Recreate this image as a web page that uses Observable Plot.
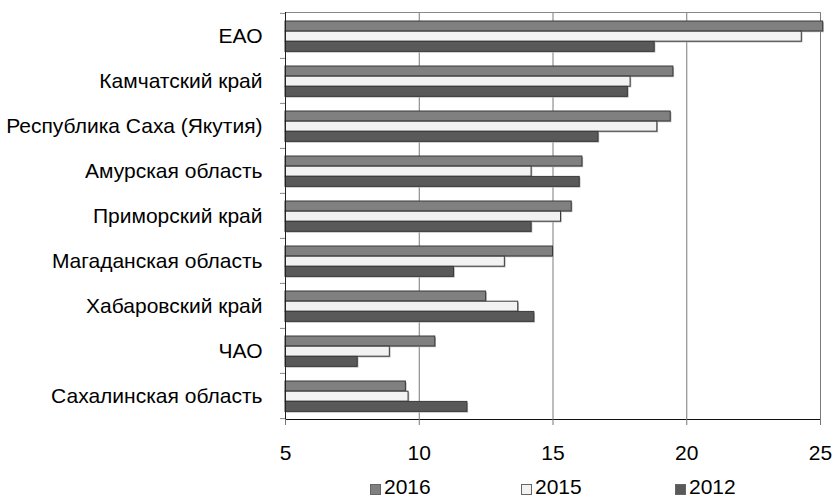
<!DOCTYPE html>
<html>
<head>
<meta charset="utf-8">
<script src="https://cdn.jsdelivr.net/npm/d3@7"></script>
<script src="https://cdn.jsdelivr.net/npm/@observablehq/plot@0.6"></script>
<style>
  html, body { margin: 0; padding: 0; background: #fff; }
  body { width: 834px; height: 498px; overflow: hidden; font-family: "Liberation Sans", Arial, sans-serif; }
  #legend { position: relative; height: 28px; width: 834px; }
  .item { position: absolute; top: 5px; height: 24px; display: flex; align-items: center; font-size: 21px; color: #000; }
  .sw { width: 9px; height: 9px; border: 1px solid #666; margin-right: 3px; margin-top: 5px; }
</style>
</head>
<body>
<div id="chart"></div>
<div id="legend"></div>
<script>
const regions = ["ЕАО", "Камчатский край", "Республика Саха (Якутия)", "Амурская область", "Приморский край", "Магаданская область", "Хабаровский край", "ЧАО", "Сахалинская область"];
const years = ["2016", "2015", "2012"];
const v2016 = [25.1, 19.5, 19.4, 16.1, 15.7, 15.0, 12.5, 10.6, 9.5];
const v2015 = [24.3, 17.9, 18.9, 14.2, 15.3, 13.2, 13.7, 8.9, 9.6];
const v2012 = [18.8, 17.8, 16.7, 16.0, 14.2, 11.3, 14.3, 7.7, 11.8];
const xTicks = [5, 10, 15, 20, 25];
const xMin = 5, xMax = 25;

const colors = {"2016": "#808080", "2015": "#f2f2f2", "2012": "#595959"};
const series = {"2016": v2016, "2015": v2015, "2012": v2012};

const W = 834, H = 470, mT = 12, mB = 51, mL = 285, mR = 14;
const bw = (H - mT - mB) / regions.length;
const startFrac = 0.177, barFrac = 0.2255;

const marks = [
  Plot.gridX(xTicks.filter(t => t > xMin), {stroke: "#7a7a7a", strokeOpacity: 1, strokeWidth: 1}),
  Plot.frame({anchor: "top", stroke: "#888"}),
];
years.forEach((yr, i) => {
  const data = regions.map((r, j) => ({region: r, value: series[yr][j]}));
  const top = bw * (startFrac + barFrac * i);
  const bottom = bw - bw * (startFrac + barFrac * (i + 1));
  marks.push(Plot.barX(data, {y: "region", x1: () => xMin, x2: "value", insetTop: top, insetBottom: bottom, fill: "#b0b0b0", dx: 1.2, dy: 1.2}));
  marks.push(Plot.barX(data, {y: "region", x1: () => xMin, x2: "value", insetTop: top, insetBottom: bottom, fill: colors[yr], stroke: "#3a3a3a", strokeWidth: 1}));
});
marks.push(
  Plot.ruleX([xMin], {stroke: "#222"}),
  Plot.frame({anchor: "bottom", stroke: "#111"}),
  Plot.axisX({ticks: xTicks, tickSize: 6, tickPadding: 20, stroke: "#777", fontSize: 21, label: null, tickFormat: d => String(d)}),
  Plot.axisY({tickSize: 0, tickPadding: 23, fontSize: 21, label: null}),
  Plot.axisY({text: null, tickSize: 5, dy: -bw / 2, stroke: "#888", label: null}),
  Plot.axisY({ticks: [regions[regions.length - 1]], text: null, tickSize: 5, dy: bw / 2, stroke: "#888", label: null})
);

const chart = Plot.plot({
  width: W, height: H,
  marginTop: mT, marginBottom: mB, marginLeft: mL, marginRight: mR,
  style: {fontFamily: "'Liberation Sans', Arial, sans-serif", fontSize: "21px", color: "#000", background: "#fff"},
  x: {domain: [xMin, xMax], axis: null, label: null},
  y: {domain: regions, padding: 0, axis: null, label: null},
  clip: false,
  marks
});
document.getElementById("chart").appendChild(chart);

const legendPos = {"2016": 370, "2015": 521, "2012": 675};
const legend = document.getElementById("legend");
years.forEach(yr => {
  const item = document.createElement("div");
  item.className = "item";
  item.style.left = legendPos[yr] + "px";
  const sw = document.createElement("span");
  sw.className = "sw";
  sw.style.background = colors[yr];
  const t = document.createElement("span");
  t.textContent = yr;
  item.appendChild(sw); item.appendChild(t);
  legend.appendChild(item);
});
</script>
</body>
</html>
